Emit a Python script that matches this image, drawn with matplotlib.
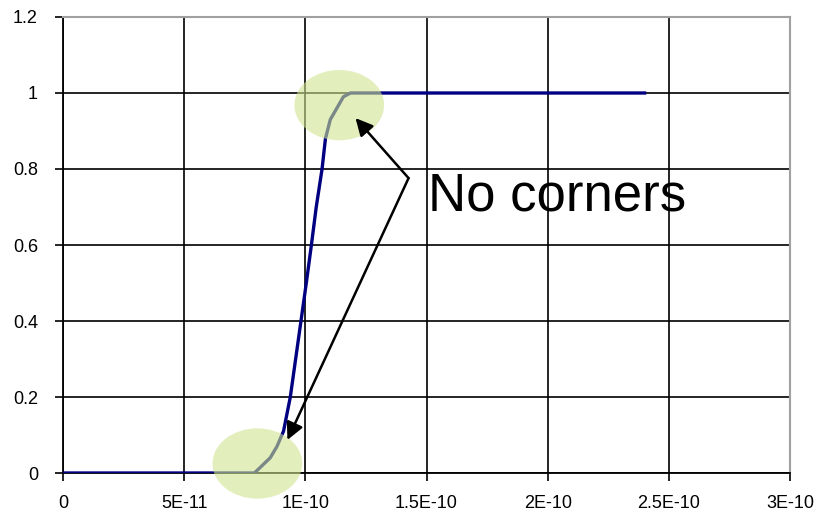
import matplotlib
matplotlib.use('Agg')
import matplotlib.pyplot as plt
from matplotlib.patches import Ellipse

# step response (time in seconds)
TIME = [0, 7.9e-11, 8.55e-11, 8.83e-11, 9.1e-11, 9.38e-11, 9.6e-11, 9.82e-11,
        10.04e-11, 10.25e-11, 10.45e-11, 10.69e-11, 10.83e-11, 11.03e-11,
        11.3e-11, 11.57e-11, 11.86e-11, 2.4e-10]
LEVEL = [0, 0, 0.04, 0.07, 0.11, 0.2, 0.3, 0.4,
         0.5, 0.6, 0.7, 0.8, 0.88, 0.93,
         0.96, 0.99, 1.0, 1.0]

X_TICKS = [0, 5e-11, 1e-10, 1.5e-10, 2e-10, 2.5e-10, 3e-10]
X_LABELS = ['0', '5E-11', '1E-10', '1.5E-10', '2E-10', '2.5E-10', '3E-10']
Y_TICKS = [0, 0.2, 0.4, 0.6, 0.8, 1.0, 1.2]
Y_LABELS = ['0', '0.2', '0.4', '0.6', '0.8', '1', '1.2']

# highlighted spots: (x, y)
SPOTS = [(8.02e-11, 0.025), (11.4e-11, 0.968)]
NOTE = 'No corners'
NOTE_XY = (15.08e-11, 0.692)
ARROW_FROM = (14.26e-11, 0.776)
ARROW_TO = [(12.07e-11, 0.934), (9.26e-11, 0.087)]

plt.rcParams['font.family'] = ['Liberation Sans', 'DejaVu Sans']

fig = plt.figure(figsize=(8.21, 5.18), dpi=100)
ax = fig.add_axes([63 / 821, 45 / 518, 727 / 821, 456 / 518])

ax.plot(TIME, LEVEL, color='#000080', linewidth=2.4, zorder=3)

ax.set_xlim(0, 3e-10)
ax.set_ylim(0, 1.2)
ax.set_xticks(X_TICKS)
ax.set_xticklabels(X_LABELS)
ax.set_yticks(Y_TICKS)
ax.set_yticklabels(Y_LABELS)
ax.grid(True, color='black', linewidth=1.2, zorder=1)
ax.set_axisbelow(True)
ax.tick_params(direction='out', length=6, width=1.2, labelsize=13, colors='black')
ax.tick_params(axis='y', pad=12)
ax.tick_params(axis='x', pad=10)
for side in ['left', 'bottom']:
    ax.spines[side].set_color('black')
    ax.spines[side].set_linewidth(1.3)
for side in ['top', 'right']:
    ax.spines[side].set_color('#a0a0a0')
    ax.spines[side].set_linewidth(1.5)

for cx, cy in SPOTS:
    ax.add_patch(Ellipse((cx, cy), 3.7e-11, 0.185, facecolor='#cfe48f',
                         edgecolor='none', alpha=0.6, zorder=4, clip_on=False))

for tip in ARROW_TO:
    ax.annotate('', xy=tip, xytext=ARROW_FROM,
                arrowprops=dict(arrowstyle='-|>', color='black', lw=1.8,
                                mutation_scale=26, shrinkA=0, shrinkB=0),
                zorder=5)

ax.text(NOTE_XY[0], NOTE_XY[1], NOTE, fontsize=38, ha='left', va='baseline',
        color='black', zorder=6)

fig.savefig('out.png', dpi=100)
